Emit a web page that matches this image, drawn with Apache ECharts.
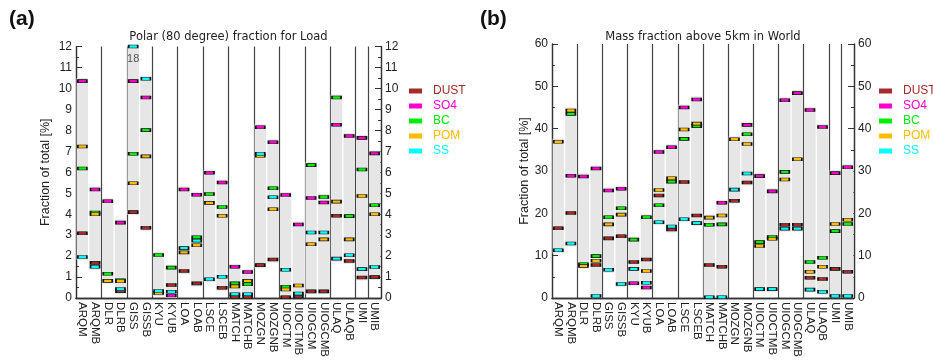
<!DOCTYPE html>
<html>
<head>
<meta charset="utf-8">
<title>Fraction of total</title>
<script src="https://cdn.jsdelivr.net/npm/echarts@6/dist/echarts.min.js"></script>
<style>
  html, body { margin: 0; padding: 0; background: #fff; }
  #chart { width: 933px; height: 360px; }
</style>
</head>
<body>
<div id="chart"></div>
<script>
// models on the x axis (same for both panels)
const models = ['ARQM', 'ARQMB', 'DLR', 'DLRB', 'GISS', 'GISSB', 'KYU', 'KYUB', 'LOA', 'LOAB',
  'LSCE', 'LSCEB', 'MATCH', 'MATCHB', 'MOZGN', 'MOZGNB', 'UIOCTM', 'UIOCTMB', 'UIOGCM', 'UIOGCMB',
  'ULAQ', 'ULAQB', 'UMI', 'UMIB'];
const species = ['DUST', 'SO4', 'BC', 'POM', 'SS'];
const speciesColors = ['#a52a2a', '#ff00cc', '#00ee00', '#ffbb00', '#00ffff'];

// (a) Polar (80 degree) fraction for Load  [%]
const aDust = [3.09, 1.68, null, 0.33, 4.1, 3.35, null, 0.62, 1.29, 0.7, null, 0.49,
  0.06, 0.06, 1.57, 1.84, 0.04, 0.08, 0.32, 0.32, 3.93, 1.77, 0.98, 1.0];
const aSo4 = [10.35, 5.18, 4.62, 3.6, 10.35, 9.57, null, 0.12, 5.18, 4.93, 5.98, 5.51,
  1.49, 1.24, 8.15, 7.43, 4.92, 3.51, 4.77, 4.56, 8.27, 7.73, 7.64, 6.9];
const aBc = [6.18, 4.08, 1.16, 0.85, 6.88, 8.01, 2.05, 1.45, null, 2.9, 4.96, 4.34,
  0.7, 0.66, null, 5.24, 0.54, null, 6.34, 4.82, 9.57, 3.91, 6.13, 4.43];
const aPom = [7.23, 4.0, 0.82, 0.8, 5.48, 6.76, 0.24, null, 2.18, 2.52, 4.54, 3.93,
  0.55, 0.82, 6.79, 4.24, 0.41, 0.6, 2.57, 2.8, 4.6, 2.8, 4.87, 4.0];
const aSs = [1.96, 1.49, null, 0.43, 18, 10.46, 0.34, 0.3, 2.38, 2.74, 0.9, 1.02,
  0.18, 0.18, 6.88, 4.81, 1.35, 0.22, 3.13, 3.13, 1.88, 2.04, 1.38, 1.48];

// (b) Mass fraction above 5km in World  [%]
const bDust = [16.5, 20.1, null, 7.8, 14.1, 14.6, 8.5, 9.1, 24.2, 16.2, 27.4, 19.5,
  7.8, 7.4, 23.0, 27.3, null, null, 17.3, 17.3, 4.8, 4.5, 6.9, 6.2];
const bSo4 = [null, 28.9, 28.7, 30.6, 25.4, 25.8, 3.5, 2.5, 34.5, 35.6, 45.0, 46.9,
  null, 22.5, null, 40.9, 28.8, 25.2, 46.7, 48.4, 44.4, 40.4, 29.5, 30.9];
const bBc = [null, 43.5, 8.0, 9.9, 19.1, 21.2, 13.8, 19.1, 21.9, 27.5, 37.6, 40.6,
  17.3, 17.4, null, 38.7, 13.2, 14.4, 29.8, null, 8.5, 9.5, 15.8, 17.5];
const bPom = [36.9, 44.3, 7.6, 8.8, 17.4, 19.7, null, 6.4, 25.5, 28.3, 39.8, 41.2,
  19.0, 19.5, 37.5, 36.4, 12.3, 14.0, 28.0, 32.8, 6.2, 7.4, 17.5, 18.5];
const bSs = [11.3, 12.9, null, 0.5, 6.7, 3.3, 6.9, 3.6, 17.9, 16.9, 18.6, 17.7,
  0.2, 0.2, 25.6, 29.4, 2.1, 2.1, 16.4, 16.4, 2.0, 1.5, 0.5, 0.5];

const FONT = 'Liberation Sans, Arial, sans-serif';

const panels = [
  { series: [aDust, aSo4, aBc, aPom, aSs], max: 12, interval: 1,
    grid: { left: 76, top: 46.5, width: 305, height: 256 }, nameGap: 24,
    title: 'Polar (80 degree) fraction for Load', tag: '(a)', tagX: 9, legendX: 404 },
  { series: [bDust, bSo4, bBc, bPom, bSs], max: 60, interval: 10,
    grid: { left: 552, top: 44, width: 302, height: 255 }, nameGap: 19,
    title: 'Mass fraction above 5km in World', tag: '(b)', tagX: 480, legendX: 874 }
];

// grey band from the smallest to the largest fraction of each model
function rangeData(arrs) {
  return models.map((m, i) => {
    const vals = arrs.map(a => a[i]).filter(v => v != null);
    return [i, Math.min(...vals), Math.max(...vals)];
  });
}

function renderRange(params, api) {
  const x = api.value(0);
  const lo = api.coord([x, api.value(1)]);
  const hi = api.coord([x, api.value(2)]);
  const w = api.size([1, 0])[0] * 0.9;
  const pad = 3;
  const cs = params.coordSys;
  const shape = echarts.graphic.clipRectByRect(
    { x: lo[0] - w / 2, y: hi[1] - pad, width: w, height: lo[1] - hi[1] + 2 * pad },
    { x: cs.x, y: cs.y, width: cs.width, height: cs.height });
  return shape && { type: 'rect', shape: shape, style: { fill: '#e6e6e6' } };
}

const chart = echarts.init(document.getElementById('chart'));

const grid = [], xAxis = [], yAxis = [], series = [], legend = [], graphic = [];

panels.forEach((p, k) => {
  grid.push(p.grid);

  const catAxis = {
    type: 'category', data: models, gridIndex: k,
    axisLine: { lineStyle: { color: '#333', width: 1.3 } },
    axisTick: { inside: true, alignWithLabel: true, length: 5, lineStyle: { color: '#333' } }
  };
  xAxis.push(Object.assign({}, catAxis, {
    position: 'bottom',
    axisLabel: { rotate: -90, fontSize: 11.5, color: '#222', fontFamily: FONT, margin: 4, interval: 0 },
    splitLine: { show: true, interval: 1, lineStyle: { color: '#444', width: 1.2 } }
  }));
  xAxis.push(Object.assign({}, catAxis, { position: 'top', axisLabel: { show: false } }));

  const valAxis = {
    type: 'value', gridIndex: k, min: 0, max: p.max, interval: p.interval,
    axisLine: { show: true, lineStyle: { color: '#333', width: 1.3 } },
    axisTick: { show: true, inside: true, length: 6, lineStyle: { color: '#333' } },
    minorTick: { show: true, splitNumber: 2, length: 3, lineStyle: { color: '#333' } },
    splitLine: { show: false },
    axisLabel: { fontSize: 12, color: '#222', fontFamily: FONT, margin: 4 }
  };
  yAxis.push(Object.assign({}, valAxis, {
    position: 'left', name: 'Fraction of total [%]', nameLocation: 'middle',
    nameGap: p.nameGap, nameTextStyle: { fontSize: 12.5, color: '#222', fontFamily: FONT }
  }));
  yAxis.push(Object.assign({}, valAxis, { position: 'right' }));

  series.push({
    type: 'custom', xAxisIndex: 2 * k, yAxisIndex: 2 * k, z: 1, silent: true,
    renderItem: renderRange, encode: { x: 0, y: [1, 2] },
    data: rangeData(p.series)
  });

  p.series.forEach((vals, s) => {
    const data = [];
    vals.forEach((v, i) => {
      if (v == null) return;
      if (v > p.max) {
        // off-scale value: marker pinned at the top, real value written under it
        data.push({ value: [i, p.max], label: { show: true, formatter: String(v),
          position: 'bottom', distance: 5, fontSize: 11, color: '#555', fontFamily: FONT } });
      } else {
        data.push([i, v]);
      }
    });
    series.push({
      name: species[s], type: 'scatter', xAxisIndex: 2 * k, yAxisIndex: 2 * k, z: 3,
      symbol: 'rect', symbolSize: [9, 3],
      itemStyle: { color: speciesColors[s], borderColor: '#111', borderWidth: 1, opacity: 1 },
      data: data
    });
  });

  legend.push({
    left: p.legendX, top: 80, orient: 'vertical', icon: 'rect',
    itemWidth: 13, itemHeight: 5, itemGap: 3,
    itemStyle: { borderWidth: 0 },
    textStyle: { fontSize: 12, fontFamily: FONT, padding: [0, 0, 0, 6] },
    data: species.map((s, i) => ({ name: s, textStyle: { color: speciesColors[i] } }))
  });

  graphic.push({
    type: 'text', x: p.tagX, y: 19,
    style: { text: p.tag, font: 'bold 21px ' + FONT, fill: '#111', textVerticalAlign: 'middle' }
  });
  graphic.push({
    type: 'text', x: p.grid.left + p.grid.width / 2, y: 37,
    style: { text: p.title, font: '11.5px DejaVu Sans, sans-serif', fill: '#222',
      textAlign: 'center', textVerticalAlign: 'middle' }
  });
});

chart.setOption({
  animation: false,
  backgroundColor: '#fff',
  grid: grid,
  xAxis: xAxis,
  yAxis: yAxis,
  legend: legend,
  graphic: graphic,
  series: series
});
</script>
</body>
</html>
